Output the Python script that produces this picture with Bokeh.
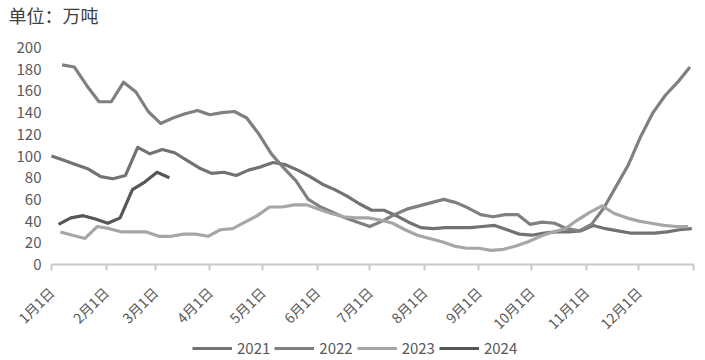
from bokeh.plotting import figure
from bokeh.models import Range1d, FixedTicker, Legend, LegendItem, Label
from bokeh.embed import file_html
from bokeh.resources import INLINE
import math

# ---- data ----
month_labels = ["1月1日", "2月1日", "3月1日", "4月1日", "5月1日", "6月1日",
                "7月1日", "8月1日", "9月1日", "10月1日", "11月1日", "12月1日"]
month_days = [0, 31, 59, 90, 120, 151, 181, 212, 243, 273, 304, 334]
year_end = 365
y_ticks = [0, 20, 40, 60, 80, 100, 120, 140, 160, 180, 200]

years = ["2021", "2022", "2023", "2024"]
first_day = [0, 6, 5, 4]  # day-of-year of first weekly observation

v2021 = [100, 96, 92, 88, 81, 79, 82, 108, 102, 106, 103, 96, 89, 84, 85, 82, 87, 90,
         94, 92, 87, 81, 74, 69, 63, 56, 50, 50, 45, 39, 34, 33, 34, 34, 34, 35, 36, 32,
         28, 27, 29, 30, 30, 31, 36, 33, 31, 29, 29, 29, 30, 32, 33]
v2022 = [184, 182, 165, 150, 150, 168, 159, 141, 130, 135, 139, 142, 138, 140, 141, 135,
         120, 102, 89, 77, 60, 53, 48, 43, 39, 35, 40, 46, 51, 54, 57, 60, 57, 52, 46, 44,
         46, 46, 37, 39, 38, 33, 31, 37, 52, 72, 92, 118, 140, 156, 168, 182]
v2023 = [30, 27, 24, 35, 33, 30, 30, 30, 26, 26, 28, 28, 26, 32, 33, 39, 45, 53, 53, 55,
         55, 51, 47, 44, 43, 43, 41, 38, 32, 27, 24, 21, 17, 15, 15, 13, 14, 17, 21, 26,
         30, 33, 41, 48, 54, 47, 43, 40, 38, 36, 35, 35]
v2024 = [37, 43, 45, 42, 38, 43, 69, 76, 85, 80]

series_values = [v2021, v2022, v2023, v2024]
colors = ["#727272", "#808080", "#a6a6a6", "#575757"]

FONT = "Noto Sans CJK SC"

# plot area spans the whole canvas; axes are pinned at day 0 / value 0
W, H = 705, 360
px_day = (693 - 51) / 365.0
px_val = (264 - 47) / 200.0
x0 = -51 / px_day
x1 = year_end + (W - 693) / px_day
y0 = -(H - 264) / px_val
y1 = 200 + 47 / px_val

p = figure(width=W, height=H, output_backend="svg", toolbar_location=None,
           x_range=Range1d(x0, x1), y_range=Range1d(y0, y1),
           min_border_left=0, min_border_right=0, min_border_top=0,
           min_border_bottom=0)
p.outline_line_color = None
p.xgrid.grid_line_color = None
p.ygrid.grid_line_color = None
p.background_fill_color = "white"
p.border_fill_color = "white"

renderers = []
for yr, d0, vals, c in zip(years, first_day, series_values, colors):
    xs = [d0 + 7 * i for i in range(len(vals))]
    r = p.line(xs, vals, line_color=c, line_width=3.2, line_join="round")
    renderers.append((yr, r))

# y axis
p.yaxis.fixed_location = 0
p.yaxis.bounds = (0, 200)
p.yaxis.ticker = FixedTicker(ticks=y_ticks)
p.yaxis.axis_line_color = None
p.yaxis.major_tick_line_color = None
p.yaxis.minor_tick_line_color = None
p.yaxis.major_tick_out = 0
p.yaxis.major_tick_in = 0
p.yaxis.major_label_standoff = 10
p.yaxis.major_label_text_font = FONT
p.yaxis.major_label_text_font_size = "15px"
p.yaxis.major_label_text_color = "#595959"

# x axis
p.xaxis.fixed_location = 0
p.xaxis.bounds = (0, year_end)
p.xaxis.ticker = FixedTicker(ticks=month_days + [year_end])
overrides = {d: lab for d, lab in zip(month_days, month_labels)}
overrides[year_end] = ""
p.xaxis.major_label_overrides = overrides
p.xaxis.major_label_orientation = math.pi / 4
p.xaxis.axis_line_color = "#c8c8c8"
p.xaxis.axis_line_width = 2
p.xaxis.major_tick_line_color = "#c8c8c8"
p.xaxis.major_tick_line_width = 2
p.xaxis.major_tick_out = 6
p.xaxis.major_tick_in = 0
p.xaxis.minor_tick_line_color = None
p.xaxis.major_label_standoff = 19
p.xaxis.major_label_text_font = FONT
p.xaxis.major_label_text_font_size = "14px"
p.xaxis.major_label_text_color = "#595959"

# title
p.add_layout(Label(x=x0 + 8 / px_day, y=y1 - 14 / px_val, text="单位：万吨",
                   text_font=FONT, text_font_size="18px", text_color="#404040",
                   text_baseline="middle", text_align="left"))

legend = Legend(items=[LegendItem(label=yr, renderers=[r]) for yr, r in renderers],
                orientation="horizontal", location=(192, 2),
                glyph_width=40, glyph_height=18, label_standoff=5, spacing=4,
                padding=0, margin=0, border_line_color=None,
                background_fill_alpha=0,
                label_text_font=FONT, label_text_font_size="15px",
                label_text_color="#595959")
p.add_layout(legend, "center")

open("out.html", "w").write(file_html(p, INLINE))
